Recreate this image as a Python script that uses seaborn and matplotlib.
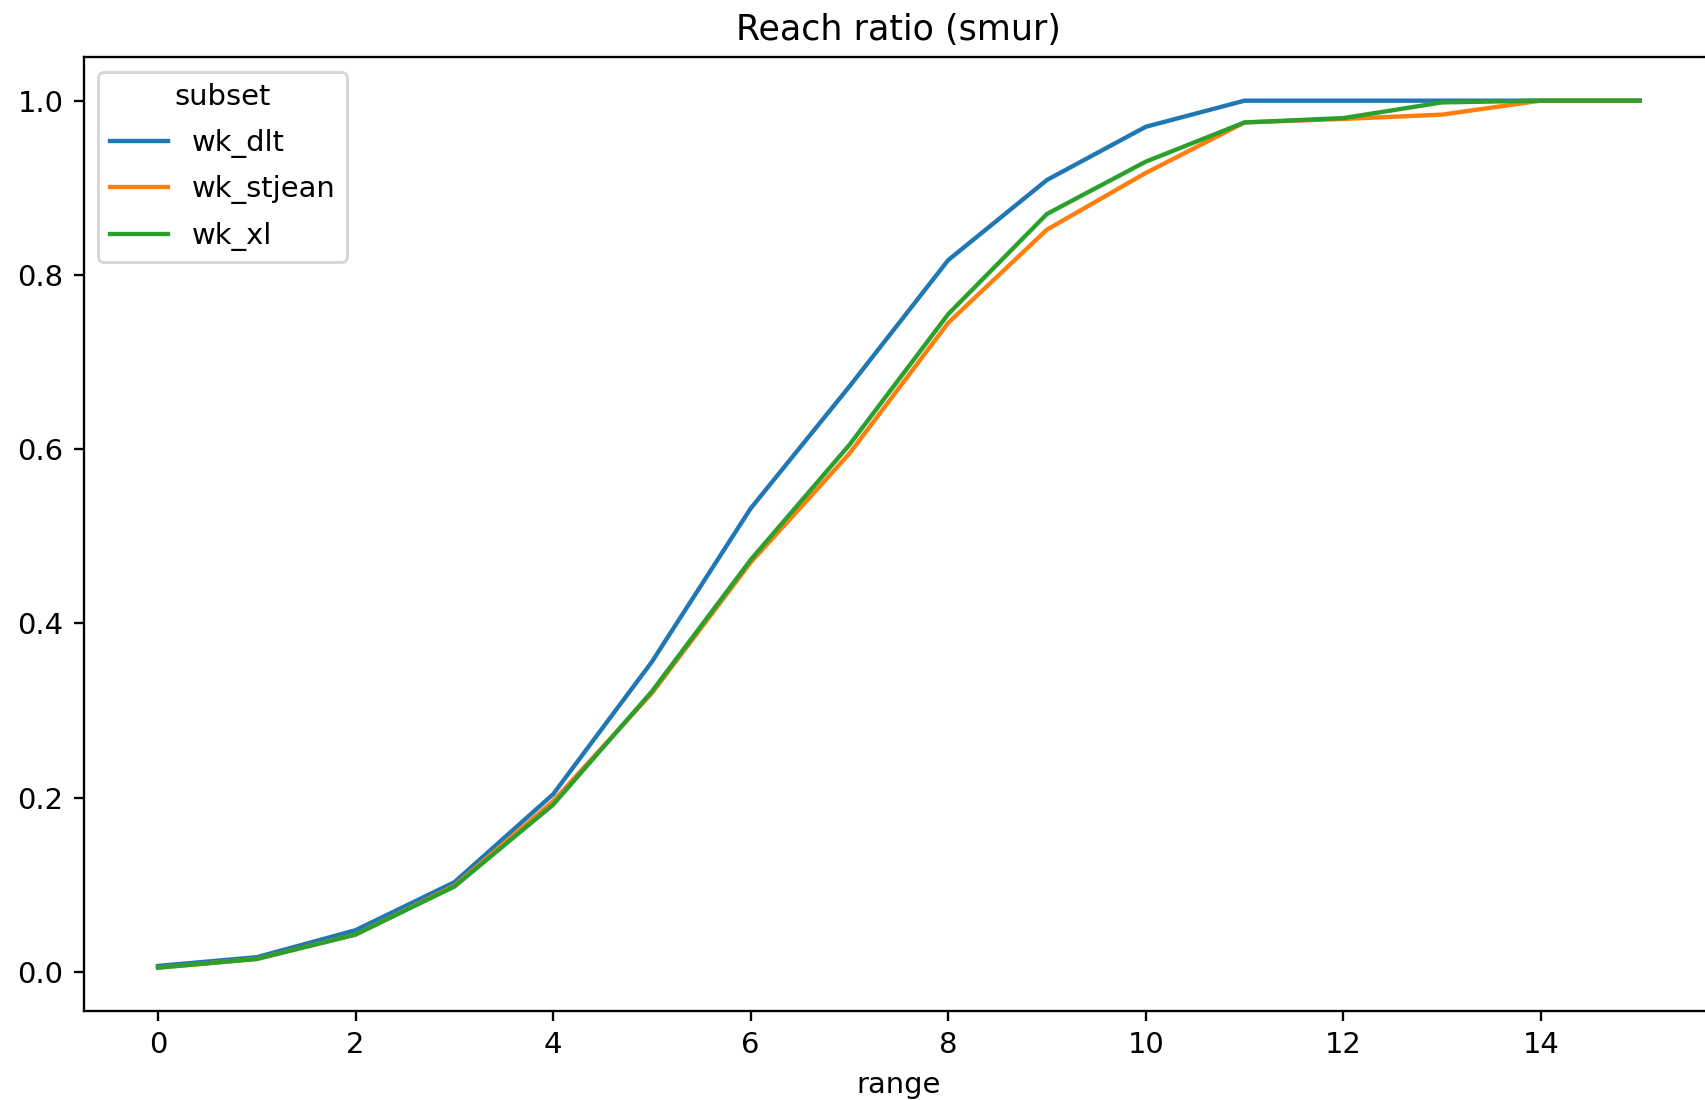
import matplotlib

matplotlib.use("Agg")
import matplotlib.pyplot as plt
import pandas as pd
import seaborn as sns

# distance steps
ranges = list(range(16))

# share of reached points per subset
wk_dlt = [0.007, 0.017, 0.048, 0.103, 0.204, 0.356, 0.532, 0.672,
          0.817, 0.909, 0.970, 1.0, 1.0, 1.0, 1.0, 1.0]
wk_stjean = [0.005, 0.015, 0.043, 0.099, 0.196, 0.320, 0.470, 0.595,
             0.745, 0.852, 0.917, 0.975, 0.979, 0.984, 1.0, 1.0]
wk_xl = [0.005, 0.015, 0.043, 0.098, 0.192, 0.322, 0.473, 0.605,
         0.755, 0.870, 0.930, 0.975, 0.980, 0.998, 1.0, 1.0]

subsets = ["wk_dlt", "wk_stjean", "wk_xl"]


def build_frame():
    """Long format table for seaborn."""
    frames = []
    for name, values in zip(subsets, [wk_dlt, wk_stjean, wk_xl]):
        frames.append(pd.DataFrame({"range": ranges, "ratio": values, "subset": name}))
    return pd.concat(frames, ignore_index=True)


def plot_reach(df):
    dpi = 209
    fig = plt.figure(figsize=(1706 / dpi, 1100 / dpi), dpi=dpi)
    # axes runs a little past the right edge, like the cropped original
    ax = fig.add_axes([0.0492, 0.0809, 0.9553, 0.867])
    sns.lineplot(data=df, x="range", y="ratio", hue="subset", ax=ax)
    ax.set_title("Reach ratio (smur)")
    ax.set_xlabel("range")
    ax.set_ylabel("")
    ax.legend(title="subset", loc="upper left", labelspacing=0.6)
    fig.savefig("out.png", dpi=dpi)


if __name__ == "__main__":
    df = build_frame()
    plot_reach(df)
